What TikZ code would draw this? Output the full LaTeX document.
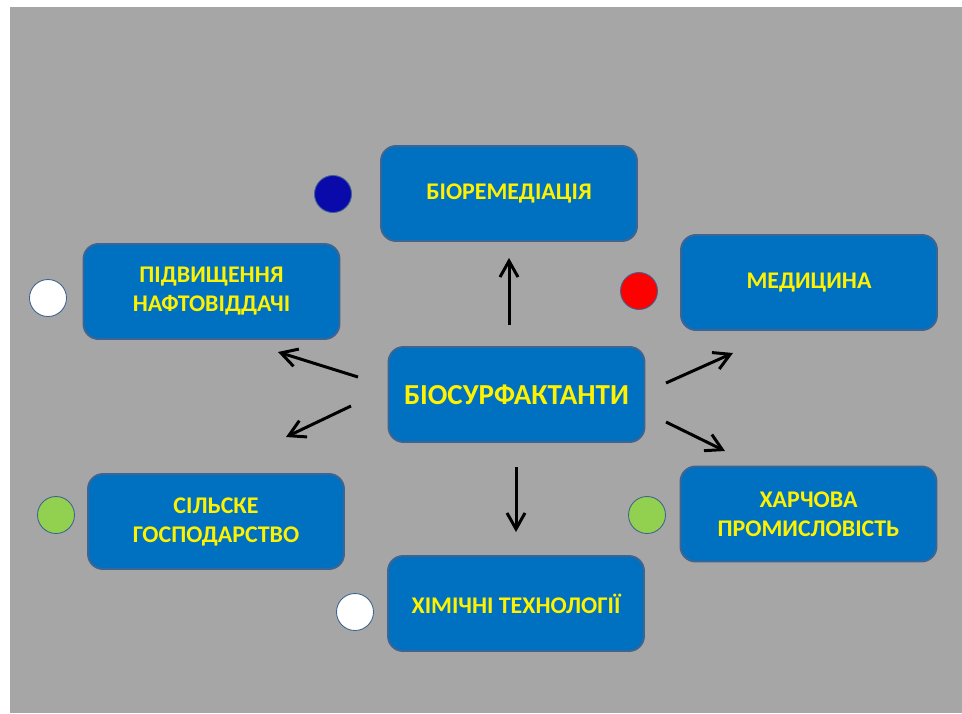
\documentclass[tikz,border=0pt]{standalone}
\usepackage{fontspec}
\setmainfont{Carlito}
\usepackage{xcolor}
\usepackage{tikz}
\usetikzlibrary{arrows.meta,positioning}
\definecolor{slidegray}{HTML}{A6A6A6}
\definecolor{boxblue}{HTML}{0070C0}
\definecolor{edgeblue}{HTML}{3E6491}
\definecolor{dotblue}{HTML}{0A0AAA}
\definecolor{dotgreen}{HTML}{92D050}

\begin{document}
\begin{tikzpicture}[x=0.02cm, y=-0.02cm,
  field/.style={draw=edgeblue, line width=1.1pt, fill=boxblue, rounded corners=0.3cm,
    minimum width=5.12cm, minimum height=1.9cm, align=center, text=yellow,
    font=\bfseries\fontsize{13.6}{16.5}\selectfont},
  dot/.style={circle, draw=edgeblue, line width=0.5pt, minimum size=0.74cm, inner sep=0pt},
  link/.style={line width=1.7pt, -{Straight Barb[length=0.32cm,width=0.36cm,line width=1.7pt]}}
]
\useasboundingbox (0,0) rectangle (962,713);
\fill[slidegray] (10,7) rectangle (962,713);

\node[field, font=\bfseries\fontsize{16.5}{20}\selectfont] (bio) at (516.5,394.5) {БІОСУРФАКТАНТИ};
\node[field] (remed) at (509,193.5) {БІОРЕМЕДІАЦІЯ};
\node[field] (oil)   at (211.5,291.5) {ПІДВИЩЕННЯ\\НАФТОВІДДАЧІ};
\node[field] (med)   at (809,282.5) {МЕДИЦИНА};
\node[field] (agro)  at (216,521.5) {СІЛЬСКЕ\\ГОСПОДАРСТВО};
\node[field] (food)  at (808.5,514) {ХАРЧОВА\\ПРОМИСЛОВІСТЬ};
\node[field] (chem)  at (516,603.5) {ХІМІЧНІ ТЕХНОЛОГІЇ};

\node[dot, fill=dotblue]  (d1) at (333,194) {};
\node[dot, fill=white]    (d2) at (48,298) {};
\node[dot, fill=red]      (d3) at (639,291) {};
\node[dot, fill=dotgreen] (d4) at (56,515) {};
\node[dot, fill=dotgreen] (d5) at (647,515) {};
\node[dot, fill=white]    (d6) at (355,612) {};

% arrow ends
\coordinate (up0) at (509,325);   \coordinate (up1) at (509,258);
\coordinate (lu0) at (358,377);   \coordinate (lu1) at (278,352);
\coordinate (ll0) at (351,406);   \coordinate (ll1) at (286,437);
\coordinate (ru0) at (666,383);   \coordinate (ru1) at (733,353);
\coordinate (rl0) at (666,422);   \coordinate (rl1) at (725,451);
\coordinate (dn0) at (516,467);   \coordinate (dn1) at (516,532);

\draw[link] (up0) -- (up1);
\draw[link] (lu0) -- (lu1);
\draw[link] (ll0) -- (ll1);
\draw[link] (ru0) -- (ru1);
\draw[link] (rl0) -- (rl1);
\draw[link] (dn0) -- (dn1);
\end{tikzpicture}
\end{document}
